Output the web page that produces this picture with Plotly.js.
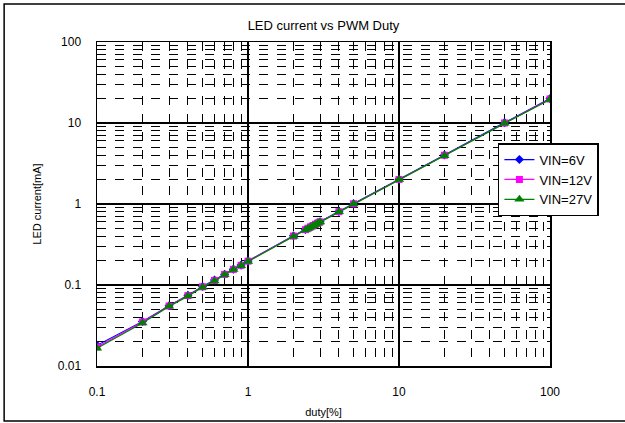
<!DOCTYPE html>
<html>
<head>
<meta charset="utf-8">
<script src="https://cdn.plot.ly/plotly-3.0.1.min.js"></script>
<style>
html,body{margin:0;padding:0;background:#fff;}
#chart{width:625px;height:423px;}
</style>
</head>
<body>
<div id="chart"></div>
<script>
const duty = [0.1,0.2,0.3,0.4,0.5,0.6,0.7,0.8,0.9,1,2,2.4,2.5,2.6,2.7,2.8,2.9,3,4,5,10,20,50,100];
const vin6 = [0.0180,0.0355,0.0555,0.0745,0.096,0.115,0.136,0.157,0.176,0.198,0.405,0.485,0.505,0.525,0.545,0.565,0.585,0.605,0.81,1.01,2.02,4.02,10.1,20.0];
const vin12 = [0.0172,0.0350,0.0550,0.0740,0.095,0.114,0.135,0.156,0.175,0.197,0.402,0.482,0.502,0.522,0.542,0.562,0.582,0.602,0.805,1.005,2.01,4.0,10.0,19.8];
const vin27 = [0.0166,0.0340,0.0545,0.0730,0.094,0.112,0.134,0.155,0.173,0.195,0.398,0.478,0.498,0.518,0.538,0.558,0.578,0.598,0.80,1.0,2.0,3.95,9.9,19.5];
const seriesNames = ['VIN=6V','VIN=12V','VIN=27V'];
const xTickVals = [0.1,1,10,100];
const xTickText = ['0.1','1','10','100'];
const yTickVals = [0.01,0.1,1,10,100];
const yTickText = ['0.01','0.1','1','10','100'];

function minorVals(lo, hi){
  const out=[];
  for(let d=lo; d<hi; d*=10){ for(let k=2;k<=9;k++) out.push(+(d*k).toPrecision(6)); }
  return out;
}

const font = {family:'Liberation Sans, Arial, sans-serif', color:'#000'};

const traces = [
  {x:duty, y:vin6, name:seriesNames[0], mode:'lines+markers',
   line:{color:'#0000ff',width:1.2}, marker:{symbol:'diamond',size:7,color:'#0000ff'}},
  {x:duty, y:vin12, name:seriesNames[1], mode:'lines+markers',
   line:{color:'#ff00ff',width:1.2}, marker:{symbol:'square',size:7,color:'#ff00ff'}},
  {x:duty, y:vin27, name:seriesNames[2], mode:'lines+markers',
   line:{color:'#008000',width:1.3}, marker:{symbol:'triangle-up',size:9,color:'#008000'}}
];

const layout = {
  width:625, height:423,
  margin:{l:97, r:75, t:42, b:57},
  paper_bgcolor:'#fff', plot_bgcolor:'#fff',
  font:Object.assign({size:12}, font),
  title:{text:'LED current vs PWM Duty', font:Object.assign({size:13}, font), x:0.5, xref:'paper', y:0.94, yref:'container', yanchor:'middle'},
  xaxis:{type:'log', range:[-1,2], tickvals:xTickVals, ticktext:xTickText,
    showgrid:true, gridcolor:'#000', gridwidth:1.5,
    showline:true, linecolor:'#000', linewidth:1.5, mirror:true,
    ticks:'', ticklabelstandoff:14, tickfont:Object.assign({size:12}, font),
    zeroline:false,
    minor:{tickvals:minorVals(0.1,100), showgrid:true, gridcolor:'#000', griddash:'dash', gridwidth:1, ticks:''},
    title:{text:'duty[%]', font:Object.assign({size:11}, font), standoff:10}},
  yaxis:{type:'log', range:[-2,2], tickvals:yTickVals, ticktext:yTickText,
    showgrid:true, gridcolor:'#000', gridwidth:1.5,
    showline:true, linecolor:'#000', linewidth:1.5, mirror:true,
    ticks:'', ticklabelstandoff:12, tickfont:Object.assign({size:12}, font),
    zeroline:false,
    minor:{tickvals:minorVals(0.01,100), showgrid:true, gridcolor:'#000', griddash:'dash', gridwidth:1, ticks:''},
    title:{text:'LED current[mA]', font:Object.assign({size:11}, font), standoff:14}},
  legend:{x:0.885, y:0.688, xanchor:'left', yanchor:'top',
    bgcolor:'#fff', bordercolor:'#000', borderwidth:1.5,
    font:Object.assign({size:13}, font), tracegroupgap:0, itemwidth:30},
  showlegend:true,
  shapes:[
    {type:'rect', xref:'paper', yref:'paper', x0:-0.205, x1:1.2, y0:-0.17, y1:1.117,
     line:{color:'#000', width:1.5}, fillcolor:'rgba(0,0,0,0)', layer:'below'}
  ]
};

Plotly.newPlot('chart', traces, layout, {displayModeBar:false, staticPlot:true});
</script>
</body>
</html>
